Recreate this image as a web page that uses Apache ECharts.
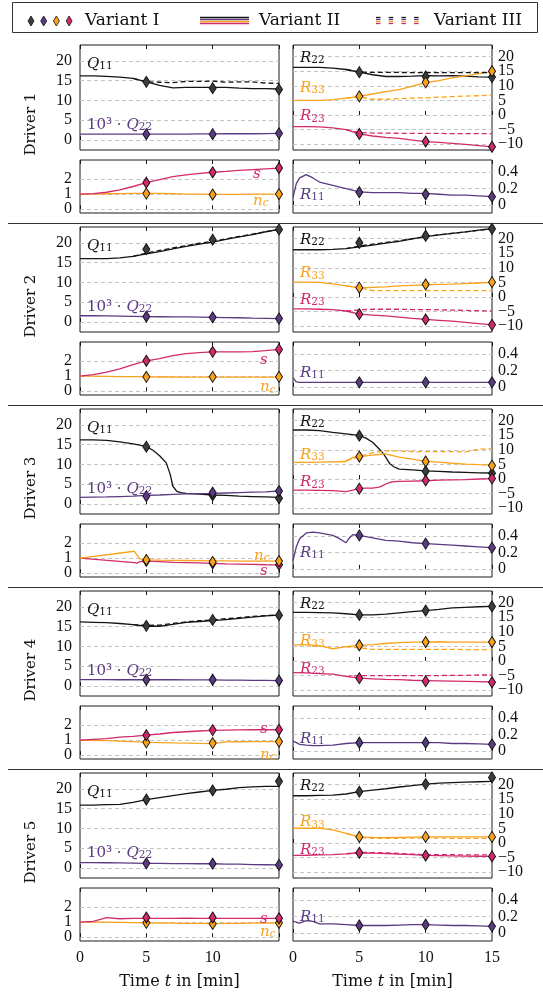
<!DOCTYPE html>
<html><head><meta charset="utf-8">
<script src="https://cdn.jsdelivr.net/npm/echarts@6/dist/echarts.min.js"></script>
<style>html,body{margin:0;padding:0;background:#fff}#c{width:543px;height:994px}</style>
</head><body><div id="c"></div><script>
// ---- time bases ----
const T  = [0,1,2,3,4,5,6,7,8,9,10,11,12,13,14,15];
const TD = [4,5,6,7,8,9,10,11,12,13,14,15];
const TM = [5,10,15];
const TR = [0,0.25,0.5,1,1.5,2,3,4,5,6,7,8,9,10,11,12,13,14,15];
const T3 = [0,1,2,3,4,4.5,5,5.5,6,6.5,6.8,7,7.3,7.6,8,9,10,11,12,13,14,15];
const T3b = [0,4.1,4.3,4.5,5,6,7,8,9,10,11,12,13,14,15];
const TR3 = [0,0.25,0.5,1,1.5,2,3,3.5,4,4.2,4.5,5,6,7,8,9,10,11,12,13,14,15];
const xTicks = [0,5,10,15];

// ---- Driver 1 ----
const d1_Q11 = [16.2,16.2,16.1,15.9,15.6,14.7,13.8,13.2,13.3,13.3,13.3,13.3,13.1,13.0,13.0,12.9];
const d1_Q11_III = [15.6,14.7,14.6,14.5,14.8,14.8,14.9,14.6,14.7,14.7,14.4,14.3];
const d1_Q11_I = [14.7,13.1,12.8];
const d1_Q22 = [1.5,1.5,1.5,1.5,1.5,1.5,1.5,1.5,1.5,1.55,1.55,1.6,1.6,1.6,1.65,1.7];
const d1_Q22_I = [1.5,1.5,1.7];
const d1_s = [1.0,1.03,1.12,1.27,1.5,1.75,1.95,2.15,2.27,2.36,2.44,2.5,2.57,2.62,2.67,2.72];
const d1_s_I = [1.75,2.44,2.72];
const d1_nc = [1.0,1.0,1.02,1.03,1.04,1.05,1.04,1.02,1.0,0.99,0.98,0.98,0.98,0.99,0.99,1.0];
const d1_nc_I = [1.03,0.97,1.0];
const d1_R22 = [16.3,16.3,16.3,16.1,15.6,14.7,13.8,13.2,13.2,13.3,13.5,13.4,13.5,13.3,13.1,13.0];
const d1_R22_III = [15.6,14.7,14.6,14.6,14.6,14.5,14.5,14.5,14.5,14.5,14.5,14.5];
const d1_R22_I = [14.7,13.2,13.0];
const d1_R33 = [5.0,5.0,5.0,5.3,5.8,6.4,7.2,8.0,8.7,9.9,11.1,11.8,12.7,13.4,14.2,14.9];
const d1_R33_III = [5.8,6.2,5.4,5.4,5.6,5.8,5.9,6.1,6.3,6.5,6.6,6.8];
const d1_R33_I = [6.4,11.2,15.0];
const d1_R23 = [-4.0,-4.0,-4.1,-4.4,-5.0,-6.5,-7.2,-7.7,-8.0,-8.6,-9.1,-9.4,-9.7,-10.1,-10.5,-10.9];
const d1_R23_III = [-5.0,-6.0,-6.2,-6.2,-6.3,-6.3,-6.3,-6.3,-6.4,-6.4,-6.4,-6.4];
const d1_R23_I = [-6.5,-9.1,-10.9];
const d1_R11 = [0.09,0.26,0.33,0.37,0.33,0.28,0.24,0.2,0.16,0.15,0.15,0.15,0.14,0.14,0.13,0.12,0.12,0.11,0.1];
const d1_R11_I = [0.155,0.13,0.1];

// ---- Driver 2 ----
const d2_Q11 = [16.0,16.0,16.0,16.2,16.6,17.2,17.8,18.5,19.1,19.7,20.2,20.9,21.5,22.1,22.8,23.4];
const d2_Q11_III = [16.6,17.4,18.1,18.7,19.3,19.9,20.4,21.0,21.6,22.2,22.8,23.4];
const d2_Q11_I = [18.4,20.8,23.4];
const d2_Q22 = [1.6,1.6,1.55,1.5,1.45,1.4,1.35,1.3,1.3,1.25,1.2,1.15,1.1,1.0,0.95,0.9];
const d2_Q22_I = [1.4,1.2,0.9];
const d2_s = [1.0,1.1,1.26,1.47,1.75,2.01,2.15,2.35,2.48,2.55,2.6,2.6,2.6,2.62,2.68,2.76];
const d2_s_I = [2.01,2.6,2.76];
const d2_nc = [1.0,0.99,0.98,0.97,0.96,0.95,0.94,0.94,0.93,0.93,0.93,0.93,0.93,0.93,0.93,0.93];
const d2_nc_I = [0.95,0.95,0.95];
const d2_R22 = [16.2,16.2,16.2,16.3,16.6,17.2,17.8,18.5,19.1,19.9,20.7,21.3,21.8,22.3,22.9,23.4];
const d2_R22_III = [16.6,17.5,18.1,18.7,19.3,20.0,20.7,21.3,21.8,22.3,22.9,23.4];
const d2_R22_I = [18.6,21.0,23.4];
const d2_R33 = [5.1,5.1,5.0,4.5,3.8,3.1,3.3,3.5,3.8,4.0,4.2,4.3,4.4,4.6,4.8,5.0];
const d2_R33_III = [3.8,3.1,2.2,2.2,2.2,2.2,2.2,2.2,2.2,2.2,2.2,2.2];
const d2_R33_I = [3.2,4.3,5.1];
const d2_R23 = [-4.05,-4.1,-4.2,-4.3,-4.8,-5.9,-6.2,-6.5,-6.9,-7.3,-7.7,-8.0,-8.3,-8.7,-9.1,-9.55];
const d2_R23_III = [-4.8,-4.4,-4.2,-4.2,-4.2,-4.3,-4.3,-4.4,-4.5,-4.6,-4.7,-4.8];
const d2_R23_I = [-5.9,-7.7,-9.55];
const d2_R11 = [0.11,0.06,0.055,0.055,0.055,0.055,0.055,0.055,0.055,0.055,0.055,0.055,0.055,0.055,0.055,0.055,0.055,0.055,0.055];
const d2_R11_I = [0.055,0.055,0.055];

// ---- Driver 3 ----
const d3_Q11 = [16.2,16.2,16.1,15.7,15.2,14.9,14.5,13.6,12.2,10.4,7.5,4.5,3.2,2.9,2.7,2.5,2.3,2.2,2.0,1.9,1.8,1.7];
const d3_Q11_I = [14.5,2.2,1.5];
const d3_Q22 = [1.7,1.75,1.8,1.9,2.0,2.2,2.3,2.45,2.6,2.65,2.7,2.8,2.9,3.0,3.1,3.3];
const d3_Q22_I = [2.0,2.9,3.3];
const d3_nc = [1.0,1.45,1.2,0.95,0.88,0.86,0.85,0.84,0.83,0.82,0.81,0.8,0.8,0.8,0.8];
const d3_nc_I = [0.88,0.75,0.8];
const d3_s = [1.0,0.7,0.67,0.76,0.8,0.76,0.72,0.7,0.68,0.65,0.62,0.6,0.58,0.56,0.55];
const d3_s_I = [0.82,0.65,0.56];
const d3_R22 = [16.8,16.8,16.6,16.0,15.5,15.2,14.85,14.0,12.6,10.3,8.8,7.4,5.2,4.2,3.4,3.1,2.8,2.6,2.4,2.3,2.1,2.05];
const d3_R22_I = [14.85,2.7,2.0];
const d3_R33 = [5.7,5.7,5.8,5.9,6.0,7.4,7.7,7.9,8.2,8.4,8.6,8.6,8.3,7.9,7.5,6.8,6.05,5.8,5.4,5.1,4.9,4.8];
const d3_R33_III = [6.3,7.7,9.0,9.7,9.6,9.4,9.4,9.4,9.4,9.3,10.2,10.4];
const d3_R33_I = [7.7,6.0,4.6];
const d3_R23 = [-3.8,-3.8,-3.9,-4.0,-4.3,-3.8,-3.2,-3.1,-3.1,-2.8,-2.2,-1.7,-1.2,-0.9,-0.8,-0.7,-0.6,-0.4,-0.3,-0.2,0.0,0.1];
const d3_R23_I = [-3.3,-0.5,0.2];
const d3_R11 = [0.1,0.27,0.37,0.44,0.45,0.44,0.41,0.37,0.32,0.37,0.42,0.41,0.38,0.35,0.34,0.32,0.31,0.3,0.29,0.28,0.27,0.26];
const d3_R11_I = [0.41,0.31,0.26];

// ---- Driver 4 ----
const d4_Q11 = [16.2,16.1,16.0,15.8,15.5,15.1,15.1,15.6,16.1,16.3,16.5,16.8,17.1,17.4,17.7,17.9];
const d4_Q11_III = [15.5,15.3,15.4,15.8,16.2,16.5,16.7,17.0,17.3,17.6,17.8,18.0];
const d4_Q11_I = [15.2,16.7,17.9];
const d4_Q22 = [1.65,1.65,1.65,1.6,1.6,1.6,1.6,1.6,1.55,1.55,1.55,1.5,1.5,1.45,1.45,1.4];
const d4_Q22_I = [1.6,1.6,1.4];
const d4_s = [1.0,1.05,1.1,1.2,1.25,1.32,1.4,1.5,1.55,1.6,1.64,1.66,1.67,1.68,1.68,1.68];
const d4_s_I = [1.32,1.66,1.68];
const d4_nc = [1.0,0.98,0.96,0.93,0.9,0.85,0.83,0.81,0.8,0.78,0.77,0.88,0.89,0.9,0.9,0.9];
const d4_nc_I = [0.85,0.8,0.9];
const d4_R22 = [16.7,16.7,16.6,16.5,16.2,15.8,15.8,16.1,16.5,16.9,17.3,17.7,18.2,18.4,18.6,18.7];
const d4_R22_I = [15.8,17.3,18.7];
const d4_R33 = [5.5,5.5,5.3,4.2,4.9,5.35,5.6,6.0,6.3,6.5,6.5,6.6,6.5,6.5,6.5,6.5];
const d4_R33_III = [4.9,4.5,4.0,4.0,4.0,4.0,4.0,4.0,4.0,3.9,3.9,3.9];
const d4_R33_I = [5.4,6.5,6.5];
const d4_R23 = [-4.0,-4.1,-4.3,-4.5,-5.3,-5.9,-6.1,-6.3,-6.4,-6.6,-6.7,-6.8,-6.9,-7.0,-7.1,-7.2];
const d4_R23_III = [-5.3,-5.0,-5.0,-5.0,-5.0,-5.0,-5.0,-5.0,-4.9,-4.9,-4.8,-4.8];
const d4_R23_I = [-5.9,-6.9,-7.3];
const d4_R11 = [0.12,0.1,0.08,0.07,0.065,0.065,0.07,0.09,0.1,0.1,0.1,0.1,0.1,0.1,0.1,0.09,0.09,0.085,0.08];
const d4_R11_I = [0.1,0.1,0.08];

// ---- Driver 5 ----
const d5_Q11 = [15.9,15.9,16.0,16.1,16.6,17.3,17.8,18.3,18.8,19.2,19.6,19.9,20.3,20.5,20.6,20.6];
const d5_Q11_I = [17.3,19.6,21.9];
const d5_Q22 = [1.4,1.4,1.35,1.3,1.25,1.2,1.2,1.15,1.15,1.1,1.1,1.0,1.0,0.9,0.85,0.8];
const d5_Q22_I = [1.2,1.1,0.8];
const d5_s = [1.0,1.05,1.3,1.22,1.24,1.25,1.25,1.25,1.26,1.25,1.25,1.25,1.25,1.25,1.25,1.25];
const d5_s_I = [1.3,1.3,1.25];
const d5_nc = [1.0,1.0,0.99,0.98,0.97,0.95,0.94,0.93,0.92,0.91,0.9,0.91,0.92,0.93,0.94,0.95];
const d5_nc_I = [0.95,0.88,0.95];
const d5_R22 = [16.2,16.2,16.3,16.4,16.8,17.6,18.1,18.6,19.2,19.7,20.2,20.5,20.7,20.9,21.0,21.1];
const d5_R22_I = [17.6,20.2,22.5];
const d5_R33 = [5.05,5.05,5.0,4.5,3.3,2.1,1.9,1.8,1.9,2.0,2.1,2.1,2.1,2.1,2.1,2.1];
const d5_R33_III = [3.3,1.9,1.6,1.6,1.6,1.7,1.7,1.7,1.6,1.6,1.6,1.6];
const d5_R33_I = [2.1,2.1,2.1];
const d5_R23 = [-4.25,-4.2,-4.1,-4.0,-3.7,-3.35,-3.5,-3.6,-3.8,-4.0,-4.25,-4.3,-4.4,-4.5,-4.55,-4.6];
const d5_R23_III = [-3.7,-3.2,-3.3,-3.4,-3.6,-3.8,-4.0,-4.0,-4.0,-4.1,-4.1,-4.1];
const d5_R23_I = [-3.35,-4.3,-4.6];
const d5_R11 = [0.145,0.13,0.12,0.15,0.14,0.11,0.11,0.1,0.09,0.09,0.09,0.095,0.1,0.1,0.095,0.09,0.09,0.085,0.08];
const d5_R11_I = [0.09,0.1,0.08];

// ---- tick labels ----
const yLabelsQ = [0,5,10,15,20];
const yLabelsR = [-10,-5,0,5,10,15,20];
const yLabelsS = [0,1,2];
const yLabelsR11 = [0,0.2,0.4];
const driverNames = ['Driver 1','Driver 2','Driver 3','Driver 4','Driver 5'];
const legendNames = ['Variant I','Variant II','Variant III'];

// ---- styles ----
const BLACK='#141414', PURPLE='#5b3a83', ORANGE='#f9a21b', MAGENTA='#d12a6c', MKBLACK='#3d3d3d';
const GRIDC='#c4c4c4';
const SERIF='Liberation Serif';
const DSERIF='DejaVu Serif';

function S(p,color,t,v,dash,mk){return {p,color,t,v,dash,mk};}
const DRV = [
 [S(0,BLACK,T,d1_Q11,d1_Q11_III,d1_Q11_I),S(0,PURPLE,T,d1_Q22,null,d1_Q22_I),
  S(1,BLACK,T,d1_R22,d1_R22_III,d1_R22_I),S(1,ORANGE,T,d1_R33,d1_R33_III,d1_R33_I),S(1,MAGENTA,T,d1_R23,d1_R23_III,d1_R23_I),
  S(2,ORANGE,T,d1_nc,null,d1_nc_I),S(2,MAGENTA,T,d1_s,null,d1_s_I),S(3,PURPLE,TR,d1_R11,null,d1_R11_I)],
 [S(0,BLACK,T,d2_Q11,d2_Q11_III,d2_Q11_I),S(0,PURPLE,T,d2_Q22,null,d2_Q22_I),
  S(1,BLACK,T,d2_R22,d2_R22_III,d2_R22_I),S(1,ORANGE,T,d2_R33,d2_R33_III,d2_R33_I),S(1,MAGENTA,T,d2_R23,d2_R23_III,d2_R23_I),
  S(2,ORANGE,T,d2_nc,null,d2_nc_I),S(2,MAGENTA,T,d2_s,null,d2_s_I),S(3,PURPLE,TR,d2_R11,null,d2_R11_I)],
 [S(0,BLACK,T3,d3_Q11,null,d3_Q11_I),S(0,PURPLE,T,d3_Q22,null,d3_Q22_I),
  S(1,BLACK,T3,d3_R22,null,d3_R22_I),S(1,ORANGE,T3,d3_R33,d3_R33_III,d3_R33_I),S(1,MAGENTA,T3,d3_R23,null,d3_R23_I),
  S(2,MAGENTA,T3b,d3_s,null,d3_s_I),S(2,ORANGE,T3b,d3_nc,null,d3_nc_I),S(3,PURPLE,TR3,d3_R11,null,d3_R11_I)],
 [S(0,BLACK,T,d4_Q11,d4_Q11_III,d4_Q11_I),S(0,PURPLE,T,d4_Q22,null,d4_Q22_I),
  S(1,BLACK,T,d4_R22,null,d4_R22_I),S(1,ORANGE,T,d4_R33,d4_R33_III,d4_R33_I),S(1,MAGENTA,T,d4_R23,d4_R23_III,d4_R23_I),
  S(2,ORANGE,T,d4_nc,null,d4_nc_I),S(2,MAGENTA,T,d4_s,null,d4_s_I),S(3,PURPLE,TR,d4_R11,null,d4_R11_I)],
 [S(0,BLACK,T,d5_Q11,null,d5_Q11_I),S(0,PURPLE,T,d5_Q22,null,d5_Q22_I),
  S(1,BLACK,T,d5_R22,null,d5_R22_I),S(1,ORANGE,T,d5_R33,d5_R33_III,d5_R33_I),S(1,MAGENTA,T,d5_R23,d5_R23_III,d5_R23_I),
  S(2,ORANGE,T,d5_nc,null,d5_nc_I),S(2,MAGENTA,T,d5_s,null,d5_s_I),S(3,PURPLE,TR,d5_R11,null,d5_R11_I)]
];

const YC = [
 {min:-2.5,max:24,step:2.5,labels:yLabelsQ,lines:yLabelsQ},
 {min:-12,max:24,step:1,labels:yLabelsR,lines:yLabelsR},
 {min:-0.25,max:3.25,step:0.25,labels:yLabelsS,lines:yLabelsS},
 {min:-0.1,max:0.55,step:0.1,labels:yLabelsR11,lines:yLabelsR11}
];
function gridColors(c){const n=Math.floor((c.max-c.min)/c.step+1e-9)+2;const a=[];
 for(let i=0;i<n;i++){const v=c.min+i*c.step;a.push(c.lines.some(x=>Math.abs(x-v)<1e-6)?GRIDC:'rgba(0,0,0,0)');}return a;}
function fmtNum(v){return v<0?'\u2212'+(-v):String(v);}
function zip(t,v){return t.map((x,i)=>[x,v[i]]);}

const grids=[],xAxes=[],yAxes=[],series=[],graphics=[];
const PX=[80,293],PW=199,ROWH=182;
for(let r=0;r<5;r++){
 for(let p=0;p<4;p++){
  const g=r*4+p;
  const top=(p<2?45:160)+ROWH*r, h=p<2?105:53;
  grids.push({left:PX[p%2],width:PW,top:top,height:h,show:true,borderColor:'#1a1a1a',borderWidth:1,
   backgroundColor:'rgba(0,0,0,0)',containLabel:false,outerBoundsMode:'none'});
  const showX = (r===4 && p>=2);
  const xb={gridIndex:g,type:'value',min:0,max:15,interval:5,position:'bottom',
   axisLine:{show:false},axisTick:{show:true,inside:true,length:4,lineStyle:{color:'#1a1a1a',width:1}},
   splitLine:{show:false},
   axisLabel:{show:showX,margin:9,fontFamily:SERIF,fontSize:16,color:'#111',
     formatter:(v)=>{ if(p===2 && v===15) return ''; return xTicks.indexOf(v)>=0?String(v):''; }}};
  if(showX){xb.name='Time {i|t} in [min]';xb.nameLocation='middle';xb.nameGap=33;
   xb.nameTextStyle={fontFamily:DSERIF,fontSize:16,color:'#111',rich:{i:{fontFamily:DSERIF,fontStyle:'italic',fontSize:16,color:'#111'}}};}
  xAxes.push(xb);
  xAxes.push({gridIndex:g,type:'value',min:0,max:15,interval:5,position:'top',
   axisLine:{show:false},axisTick:{show:true,inside:true,length:4,lineStyle:{color:'#1a1a1a',width:1}},
   splitLine:{show:false},axisLabel:{show:false}});
  const c=YC[p];
  yAxes.push({gridIndex:g,type:'value',min:c.min,max:c.max,interval:c.step,position:p%2?'right':'left',
   axisLine:{show:false},axisTick:{show:false},
   axisLabel:{margin:p%2?6:8,fontFamily:SERIF,fontSize:16,color:'#111',
     formatter:(v)=>{const L=c.labels.find(x=>Math.abs(x-v)<1e-6);return L===undefined?'':fmtNum(L);}},
   splitLine:{show:true,lineStyle:{color:gridColors(c),type:[4,3],width:1}}});
 }
 DRV[r].forEach(sp=>{
  const g=r*4+sp.p;
  series.push({type:'line',xAxisIndex:2*g,yAxisIndex:g,data:zip(sp.t,sp.v),showSymbol:false,symbol:'none',
   lineStyle:{color:sp.color,width:1.3},itemStyle:{color:sp.color},z:2,silent:true});
  if(sp.dash) series.push({type:'line',xAxisIndex:2*g,yAxisIndex:g,data:zip(TD,sp.dash),showSymbol:false,symbol:'none',
   lineStyle:{color:sp.color,width:1.3,type:[5,3]},itemStyle:{color:sp.color},z:3,silent:true});
 });
 DRV[r].forEach(sp=>{
  const g=r*4+sp.p;
  series.push({type:'scatter',xAxisIndex:2*g,yAxisIndex:g,data:zip(TM,sp.mk),symbol:'diamond',symbolSize:[7,11],
   itemStyle:{color:sp.color===BLACK?MKBLACK:sp.color,borderColor:'#111',borderWidth:1,opacity:1},z:5,clip:false,silent:true});
 });
}

// ---- annotation text ----
function ann(x,y,text,color){
 return {type:'text',x:x,y:y,z:10,silent:true,style:{text:text,fill:color,align:'left',verticalAlign:'middle',
  rich:{m:{fill:color,fontFamily:DSERIF,fontStyle:'italic',fontSize:15,lineHeight:16},
        n:{fill:color,fontFamily:DSERIF,fontSize:15,lineHeight:16},
        b:{fill:color,fontFamily:DSERIF,fontSize:10.5,lineHeight:10,padding:[5,0,0,0]},
        bi:{fill:color,fontFamily:DSERIF,fontStyle:'italic',fontSize:10.5,lineHeight:10,padding:[5,0,0,0]}}}};
}
const R33Y=[89,92.5,92,96.5,95.5], R23Y=[117.5,119,119.5,124,123];
const sPos=[[253,174],[260,178.5],[260,207.5],[260,183.5],[260,191.5]];
const ncPos=[[253,202],[260,206.5],[254,193],[260,210],[260,205]];
const R11Y=[196,192,190,194,190];
for(let r=0;r<5;r++){
 const dy=ROWH*r;
 graphics.push(ann(87,64+dy,'{m|Q}{b|11}',BLACK));
 graphics.push(ann(87,125+dy,'{n|10\u00b3 \u00b7 }{m|Q}{b|22}',PURPLE));
 graphics.push(ann(300,58+dy,'{m|R}{b|22}',BLACK));
 graphics.push(ann(300,R33Y[r]-1+dy,'{m|R}{b|33}',ORANGE));
 graphics.push(ann(300,R23Y[r]-1+dy,'{m|R}{b|23}',MAGENTA));
 graphics.push(ann(sPos[r][0],sPos[r][1]+dy,'{m|s}',MAGENTA));
 graphics.push(ann(ncPos[r][0],ncPos[r][1]-1+dy,'{m|n}{bi|c}',ORANGE));
 graphics.push(ann(300,R11Y[r]-1+dy,'{m|R}{b|11}',PURPLE));
 graphics.push({type:'text',x:31,y:124+dy,rotation:Math.PI/2,z:10,silent:true,
  style:{text:driverNames[r],fill:'#111',font:'15px "DejaVu Serif", serif',align:'center',verticalAlign:'middle'}});
 if(r<4) graphics.push({type:'line',z:10,silent:true,shape:{x1:8,y1:223.5+dy,x2:543,y2:223.5+dy},style:{stroke:'#333',lineWidth:1.2}});
}

// ---- legend ----
graphics.push({type:'rect',z:10,silent:true,shape:{x:12.5,y:2.5,width:525,height:30},style:{fill:'#fff',stroke:'#333',lineWidth:1}});
const LC=[MKBLACK,PURPLE,ORANGE,MAGENTA], LL=[BLACK,PURPLE,ORANGE,MAGENTA];
for(let i=0;i<4;i++){
 const cx=31+i*12.7, cy=21;
 graphics.push({type:'polygon',z:11,silent:true,shape:{points:[[cx,cy-5],[cx+3,cy],[cx,cy+5],[cx-3,cy]]},style:{fill:LC[i],stroke:'#111',lineWidth:0.8}});
 graphics.push({type:'line',z:11,silent:true,shape:{x1:200,y1:17.5+i*2,x2:249,y2:17.5+i*2},style:{stroke:LL[i],lineWidth:1.3}});
 for(let k=0;k<4;k++){
  const x0=376+k*12.7;
  graphics.push({type:'line',z:11,silent:true,shape:{x1:x0,y1:17.5+i*2,x2:x0+4.5,y2:17.5+i*2},style:{stroke:LL[i],lineWidth:1.3}});
 }
}
[[85,0],[259,1],[434,2]].forEach(([x,k])=>{
 graphics.push({type:'text',x:x,y:21,z:11,silent:true,style:{text:legendNames[k],fill:'#111',font:'17px "DejaVu Serif", serif',align:'left',verticalAlign:'middle'}});
});

const chart=echarts.init(document.getElementById('c'),null,{renderer:'canvas'});
chart.setOption({animation:false,backgroundColor:'#fff',grid:grids,xAxis:xAxes,yAxis:yAxes,series:series,graphic:graphics});
</script></body></html>
